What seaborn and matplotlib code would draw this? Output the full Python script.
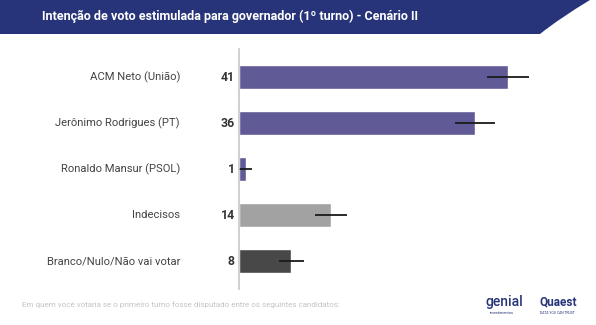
import numpy as np
import pandas as pd
import matplotlib
matplotlib.use("Agg")
import matplotlib.pyplot as plt
import seaborn as sns
from matplotlib.patches import PathPatch
from matplotlib.path import Path
from matplotlib.transforms import blended_transform_factory

categories = ["ACM Neto (União)", "Jerônimo Rodrigues (PT)", "Ronaldo Mansur (PSOL)",
              "Indecisos", "Branco/Nulo/Não vai votar"]
values = [41, 36, 1, 14, 8]
errors = [3.2, 3.0, 1.0, 2.4, 1.9]
colors = ["#605A96", "#605A96", "#605A96", "#A2A2A2", "#484848"]
title = "Intenção de voto estimulada para governador (1º turno) - Cenário II"
footnote = "Em quem você votaria se o primeiro turno fosse disputado entre os seguintes candidatos:"

sns.set_theme(style="white")
plt.rcParams['font.family'] = ['Roboto', 'DejaVu Sans']

W, H = 596, 325
fig = plt.figure(figsize=(W / 100, H / 100), dpi=100)
fig.patch.set_facecolor("white")

def fx(px):
    return px / W

def fy(py):
    return 1 - py / H

# Header band
verts = [(fx(0), fy(0)), (fx(590), fy(0)),
         (fx(560), fy(18)), (fx(540), fy(34)), (fx(520), fy(34)),
         (fx(0), fy(34)), (fx(0), fy(0))]
codes = [Path.MOVETO, Path.LINETO, Path.CURVE3, Path.CURVE3, Path.LINETO, Path.LINETO, Path.CLOSEPOLY]
fig.patches.append(PathPatch(Path(verts, codes), transform=fig.transFigure,
                             facecolor="#283479", edgecolor="none"))
fig.text(fx(42), fy(16), title, color="white", fontsize=9.0, fontweight="bold",
         va="center", ha="left")

ax = fig.add_axes([fx(239), 1 - 288.6 / H, 328 / W, 239.2 / H])
df = pd.DataFrame({"cat": categories, "val": values})
sns.barplot(data=df, y="cat", x="val", hue="cat", palette=colors, legend=False,
            orient="h", width=0.52, errorbar=None, ax=ax, saturation=1)
ypos = np.arange(len(categories))
ax.errorbar(values, ypos, xerr=errors, fmt="none", ecolor="#1a1a1a",
            elinewidth=1.3, capsize=0)
ax.set_xlim(0, 50)
ax.set_ylim(len(categories) - 0.4, -0.6)
ax.set_xlabel("")
ax.set_ylabel("")
ax.set_xticks([])
ax.set_yticks([])
for s in ["top", "right", "bottom"]:
    ax.spines[s].set_visible(False)
ax.spines["left"].set_color("#C8C8C8")
ax.spines["left"].set_linewidth(1.2)

tr = blended_transform_factory(fig.transFigure, ax.transData)
for i, (c, v) in enumerate(zip(categories, values)):
    ax.text(fx(180), i, c, transform=tr, ha="right", va="center",
            fontsize=8.1, color="#444444")
    ax.text(fx(235), i, str(v), transform=tr, ha="right", va="center",
            fontsize=8.8, fontweight="bold", color="#333333")

fig.text(fx(22), fy(305), footnote, color="#C4C4C4", fontsize=5.8,
         va="center", ha="left")
fig.text(fx(486), fy(302), "genial", color="#283479", fontsize=10, fontweight="medium",
         va="center", ha="left")
fig.text(fx(490), fy(313), "investimentos", color="#283479", fontsize=2.8, va="center", ha="left")
fig.text(fx(539), fy(302), "Quaest", color="#283479", fontsize=8.5, fontweight="bold",
         va="center", ha="left")
fig.text(fx(540), fy(313), "DATA YOU CAN TRUST", color="#283479", fontsize=2.4, va="center", ha="left")

fig.savefig("out.png", dpi=100)
